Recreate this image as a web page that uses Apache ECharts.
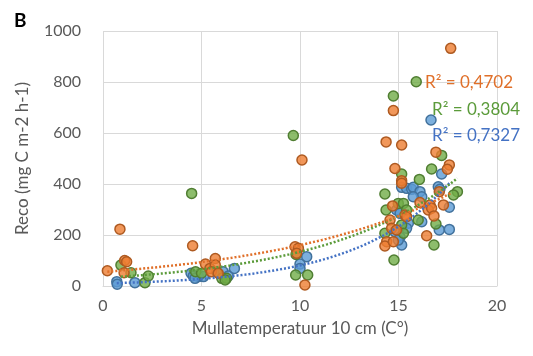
<!DOCTYPE html>
<html>
<head>
<meta charset="utf-8">
<script src="https://cdn.jsdelivr.net/npm/echarts@6/dist/echarts.min.js"></script>
<style>
html,body{margin:0;padding:0;background:#fff;}
#chart{width:533px;height:356px;}
</style>
</head>
<body>
<div id="chart"></div>
<script>
// Soil temperature (°C) vs ecosystem respiration, three sites
const orangePoints = [[0.22,60],[0.86,223],[1.1,100],[1.2,95],[1.07,52],[4.55,158],[5.2,86],[5.7,108],[5.43,69],[5.7,82],[5.5,56],[5.85,50],[9.75,154],[9.92,148],[9.83,128],[10.1,494],[10.25,4],[17.65,932],[14.74,688],[14.37,565],[15.16,553],[16.9,525],[17.58,475],[17.48,458],[14.82,461],[15.16,413],[15.16,403],[17.07,370],[17.28,318],[16.09,327],[16.6,318],[16.51,298],[16.68,305],[16.8,275],[16.43,197],[14.7,314],[14.57,259],[15.33,278],[15.41,272],[14.65,226],[14.9,220],[14.4,174],[14.31,157],[14.74,174]];
const greenPoints = [[0.91,82],[1.42,52],[2.13,13],[2.3,39],[4.5,363],[4.7,56],[5.0,50],[5.77,56],[6.03,30],[6.27,30],[6.2,24],[9.66,590],[9.8,124],[9.78,43],[10.39,43],[15.9,801],[14.74,745],[17.19,512],[16.68,459],[15.16,439],[16.06,418],[14.31,361],[17.99,370],[17.79,357],[16.9,243],[16.8,161],[16.0,259],[14.37,298],[14.99,324],[15.25,324],[15.41,298],[15.16,239],[14.31,207],[15.25,207],[14.77,102]];
const bluePoints = [[0.7,17],[0.72,7],[1.62,13],[4.47,50],[4.58,39],[4.84,37],[5.1,37],[4.67,30],[6.1,56],[6.36,39],[6.67,69],[10.34,115],[10.0,86],[10.0,69],[16.65,651],[17.19,439],[15.16,387],[15.41,383],[15.67,379],[15.75,387],[16.09,370],[16.18,350],[15.75,350],[17.02,389],[17.1,379],[17.58,309],[17.07,220],[17.58,222],[16.18,252],[14.9,298],[15.08,285],[15.5,246],[15.41,226],[14.82,213],[15.08,191],[15.16,161],[14.99,180]];

// Exponential trendlines y = a * exp(b * x): [a, b, xStart, xEnd]
const orangeTrend = [55, 0.107, 0.22, 17.65];
const greenTrend = [32, 0.1434, 0.91, 17.99];
const blueTrend = [9.7, 0.212, 0.7, 17.58];

const r2Labels = ['0,4702', '0,3804', '0,7327'];
const xTicks = [0, 5, 10, 15, 20];
const yTicks = [0, 200, 400, 600, 800, 1000];

function trendCurve(t) {
  const pts = [];
  const n = 80;
  for (let i = 0; i <= n; i++) {
    const x = t[2] + (t[3] - t[2]) * i / n;
    pts.push([x, t[0] * Math.exp(t[1] * x)]);
  }
  return pts;
}

const FONT = 'Lato, "Open Sans", sans-serif';
const colors = {
  orange: { fill: 'rgba(237,125,49,0.8)', edge: '#AE5A21' },
  green:  { fill: 'rgba(112,173,71,0.8)', edge: '#507E32' },
  blue:   { fill: 'rgba(91,155,213,0.8)', edge: '#41719C' }
};

function scatter(data, c) {
  return {
    type: 'scatter', data: data, symbol: 'circle', symbolSize: 10,
    itemStyle: { color: c.fill, borderColor: c.edge, borderWidth: 1.5, opacity: 1 },
    z: 2
  };
}
function trend(t, color) {
  return {
    type: 'line', data: trendCurve(t), showSymbol: false, symbol: 'none',
    lineStyle: { color: color, width: 2.5, type: [2, 2], cap: 'butt' },
    z: 3, silent: true
  };
}

const chart = echarts.init(document.getElementById('chart'));
chart.setOption({
  animation: false,
  backgroundColor: '#fff',
  grid: { left: 103, right: 36, top: 31, bottom: 70 },
  xAxis: {
    type: 'value', min: xTicks[0], max: xTicks[xTicks.length - 1], interval: 5,
    name: 'Mullatemperatuur 10 cm (C°)', nameLocation: 'middle', nameGap: 34,
    nameTextStyle: { fontFamily: FONT, fontSize: 17, color: '#595959' },
    axisLine: { show: true, lineStyle: { color: '#D9D9D9', width: 1 } },
    axisTick: { show: false },
    axisLabel: { fontFamily: FONT, fontSize: 16, color: '#595959', margin: 12, formatter: v => String(v) },
    splitLine: { show: true, lineStyle: { color: '#D9D9D9', width: 1 } }
  },
  yAxis: {
    type: 'value', min: yTicks[0], max: yTicks[yTicks.length - 1], interval: 200,
    name: 'Reco (mg C m-2 h-1)', nameLocation: 'middle', nameGap: 72, nameRotate: 90,
    nameTextStyle: { fontFamily: FONT, fontSize: 17, color: '#595959' },
    axisLine: { show: false },
    axisTick: { show: false },
    axisLabel: { fontFamily: FONT, fontSize: 16, color: '#595959', margin: 22, formatter: v => String(v) },
    splitLine: { show: true, lineStyle: { color: '#D9D9D9', width: 1 } }
  },
  series: [
    scatter(bluePoints, colors.blue),
    scatter(greenPoints, colors.green),
    scatter(orangePoints, colors.orange),
    trend(blueTrend, '#4472C4'),
    trend(greenTrend, '#5B9B3A'),
    trend(orangeTrend, '#E0702A')
  ],
  graphic: [
    { type: 'text', left: 14, top: 11, style: { text: 'B', font: 'bold 19px ' + FONT, fill: '#000' } },
    { type: 'text', left: 425, top: 74, z: 10, style: { text: 'R² = ' + r2Labels[0], font: '17px ' + FONT, fill: '#E0702A' } },
    { type: 'text', left: 432, top: 101, z: 10, style: { text: 'R² = ' + r2Labels[1], font: '17px ' + FONT, fill: '#5B9B3A' } },
    { type: 'text', left: 432, top: 127, z: 10, style: { text: 'R² = ' + r2Labels[2], font: '17px ' + FONT, fill: '#4472C4' } }
  ]
});
</script>
</body>
</html>
